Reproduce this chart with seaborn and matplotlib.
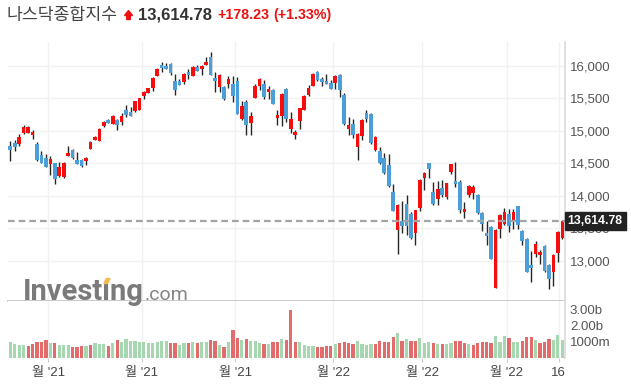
import numpy as np
import pandas as pd
import matplotlib
matplotlib.use("Agg")
import matplotlib.pyplot as plt
import seaborn as sns
from matplotlib.patches import Polygon, Rectangle

sns.set_theme(style="white")
plt.rcParams["font.family"] = ["Liberation Sans", "Noto Sans CJK KR"]

# 일봉 데이터 (2021-09-20 ~ 2022-03-17), 차트에서 읽은 값
opens = [14764, 14810, 14800, 14964, 14969, 14934, 14800, 14626, 14580, 14487,
         14503, 14303, 14292, 14610, 14703, 14549, 14544, 14539, 14723, 14862,
         14846, 15077, 15164, 15108, 15169, 15139, 15318, 15287, 15303, 15323,
         15539, 15585, 15662, 15846, 16010, 15995, 16026, 15764, 15764, 15754,
         15908, 15846, 15980, 15949, 16016, 16133, 15816, 15677, 15672, 15718,
         15723, 15759, 15175, 15441, 15123, 15508, 15692, 15723, 15595, 15626,
         15200, 15226, 15641, 15026, 14934, 15144, 15323, 15549, 15692, 15903,
         15795, 15764, 15739, 15739, 15857, 15549, 15031, 15103, 14754, 14923,
         15267, 15262, 14703, 14687, 14580, 14472, 14057, 13472, 13610, 13872,
         13718, 13431, 13816, 14277, 14503, 14051, 13954, 14118, 13980, 14369,
         14226, 14210, 13749, 14005, 14046, 14010, 13734, 13431, 13518, 12585,
         13493, 13569, 13723, 13600, 13841, 13457, 13334, 12934, 13108, 13093,
         13231, 12939, 12821, 13123, 13344]
highs = [14841, 14857, 14944, 15093, 15077, 15010, 14826, 14687, 14636, 14610,
         14510, 14513, 14518, 14764, 14713, 14672, 14559, 14600, 14836, 14913,
         15036, 15149, 15185, 15236, 15180, 15272, 15395, 15369, 15462, 15508,
         15605, 15662, 15821, 15964, 16057, 16036, 16036, 15872, 15790, 15882,
         15944, 15990, 16010, 16010, 16139, 16205, 15898, 15867, 15692, 15836,
         15841, 15821, 15451, 15467, 15287, 15718, 15805, 15775, 15682, 15636,
         15318, 15575, 15651, 15287, 15010, 15354, 15544, 15698, 15882, 15913,
         15821, 15867, 15780, 15857, 15867, 15585, 15205, 15175, 14959, 15180,
         15318, 15272, 14913, 14744, 14651, 14641, 14175, 13867, 13918, 14010,
         13754, 13785, 14251, 14369, 14510, 14205, 14221, 14236, 14200, 14495,
         14513, 14241, 13908, 14164, 14159, 14021, 13754, 13616, 13534, 13487,
         13713, 13805, 13790, 13790, 13846, 13472, 13354, 13154, 13303, 13164,
         13241, 12949, 13103, 13462, 13629]
lows = [14539, 14693, 14769, 14944, 14959, 14867, 14539, 14498, 14436, 14318,
        14185, 14292, 14267, 14605, 14569, 14482, 14446, 14477, 14713, 14851,
        14836, 15051, 15113, 15098, 15010, 15082, 15210, 15221, 15292, 15313,
        15482, 15575, 15616, 15836, 15908, 15944, 15862, 15544, 15698, 15713,
        15795, 15836, 15913, 15851, 16005, 15851, 15600, 15600, 15467, 15651,
        15446, 15251, 15159, 14939, 14939, 15498, 15621, 15482, 15482, 15405,
        15092, 15067, 15128, 14969, 14867, 15021, 15313, 15539, 15682, 15769,
        15687, 15713, 15636, 15646, 15513, 15092, 14928, 14882, 14549, 14862,
        15134, 14795, 14693, 14487, 14334, 14139, 13759, 13098, 13421, 13395,
        13328, 13241, 13769, 14087, 14267, 13862, 13851, 13985, 13944, 14339,
        14134, 13728, 13662, 13985, 13944, 13718, 13462, 13246, 13021, 12575,
        13354, 13544, 13446, 13493, 13482, 13236, 12821, 12667, 13052, 12944,
        12831, 12559, 12616, 12985, 13334]
closes = [14703, 14754, 14903, 15062, 15057, 14985, 14549, 14508, 14446, 14564,
          14262, 14441, 14498, 14657, 14580, 14493, 14457, 14585, 14826, 14903,
          15026, 15134, 15123, 15226, 15092, 15226, 15236, 15231, 15451, 15498,
          15595, 15651, 15805, 15949, 15969, 15954, 15882, 15631, 15708, 15872,
          15862, 15980, 15923, 15995, 16057, 15862, 15764, 15857, 15492, 15795,
          15533, 15262, 15375, 15092, 15226, 15687, 15795, 15518, 15641, 15416,
          15241, 15564, 15185, 15175, 14980, 15344, 15533, 15657, 15872, 15780,
          15754, 15723, 15646, 15841, 15626, 15103, 15087, 14939, 14949, 15164,
          15185, 14816, 14903, 14498, 14344, 14154, 13769, 13857, 13539, 13539,
          13349, 13780, 14241, 14354, 14416, 13872, 14103, 14016, 14190, 14487,
          14180, 13780, 13795, 14149, 14139, 13728, 13559, 13385, 13031, 13472,
          13703, 13749, 13539, 13749, 13544, 13303, 12831, 12893, 13252, 13139,
          12841, 12718, 13087, 13436.55, 13614.78]

# 거래량 (십억 주) 과 막대 색 구분 (r = 빨강, g = 초록)
volumes = [1.00, 0.83, 0.79, 0.79, 0.71, 0.85, 0.96, 0.96, 1.10, 0.90,
           0.90, 0.77, 0.77, 0.77, 0.65, 0.65, 0.73, 0.73, 0.79, 0.90,
           0.83, 0.83, 0.73, 0.90, 1.10, 1.00, 1.15, 1.04, 1.04, 1.00,
           1.00, 0.94, 0.94, 1.00, 1.04, 1.04, 0.94, 0.94, 0.79, 0.90,
           0.94, 0.96, 0.90, 1.00, 0.96, 1.08, 1.02, 0.77, 0.69, 0.96,
           1.71, 1.21, 1.08, 1.15, 1.02, 1.02, 0.90, 0.83, 0.83, 0.96,
           0.96, 1.15, 1.08, 2.98, 0.96, 0.96, 0.77, 0.71, 0.71, 0.65,
           0.65, 0.71, 0.71, 0.83, 0.90, 0.96, 0.90, 0.83, 1.02, 0.83,
           0.77, 0.83, 0.83, 1.02, 0.96, 0.96, 1.27, 1.52, 1.02, 1.15,
           1.02, 1.02, 1.21, 0.90, 0.96, 0.90, 0.83, 0.83, 0.83, 0.90,
           1.02, 1.02, 0.90, 0.83, 0.77, 0.90, 0.96, 0.96, 0.90, 1.33,
           0.96, 1.33, 1.21, 0.96, 0.96, 1.02, 1.27, 1.27, 1.08, 0.90,
           0.96, 1.15, 1.08, 1.40, 1.08]
vol_dir = list("ggggrrrrrg" "rgggrrrgrg" "ggrgrggggg" "ggggggrrgg"
               "rgrggrrgrg" "rrgrgggrgr" "rgrrrggggr" "rrrgrrrrgg"
               "ggrrrrrgrg" "rrgggrgrgg" "rrrgrrrrrg" "ggrggrrrgr"
               "rrggg")

price_ticks = [13000, 13500, 14000, 14500, 15000, 15500, 16000]
vol_ticks = [1, 2, 3]
vol_tick_labels = ["1000m", "2.00b", "3.00b"]
month_idx = [9, 30, 51, 73, 93, 112, 123.7]
month_labels = ["월 '21", "월 '21", "월 '21", "월 '22", "월 '22", "월 '22", "16"]
last_price = 13614.78

RED = "#f70d0d"
BLUE = "#4b9fd9"
WICK = "#262626"
VOL_RED = "#e26b6b"
VOL_GREEN = "#a7d7b0"
GRID = "#f1f1f1"

W, H = 631, 384
fig = plt.figure(figsize=(W / 100, H / 100), dpi=100)


def fx(px):
    return px / W


def fy(py):
    return 1 - py / H


x_left, x_right = 8, 565
ax = fig.add_axes([fx(x_left), fy(300.7), (x_right - x_left) / W, (300.7 - 42) / H])
axv = fig.add_axes([fx(x_left), fy(357.7), (x_right - x_left) / W, (357.7 - 300.7) / H])

o = np.array(opens, dtype=float)
h = np.array(highs, dtype=float)
l = np.array(lows, dtype=float)
c = np.array(closes, dtype=float)
idx = np.arange(len(c))
colors = np.where(c >= o, RED, BLUE)

# 캔들
ax.vlines(idx, l, h, color=WICK, lw=1.0, zorder=2)
ax.bar(idx, np.maximum(np.abs(c - o), 10), bottom=np.minimum(o, c),
       width=0.82, color=colors, linewidth=0, zorder=3)
ax.axhline(last_price, color="#a3a3a3", lw=1.6, dashes=(3, 1.8), zorder=4)

xlim = (-0.52, 124.6)
grid_x = [m - 0.5 for m in month_idx]
for a in (ax, axv):
    a.set_xlim(*xlim)
    for gx in grid_x:
        a.axvline(gx, color=GRID, lw=1, zorder=0)

ax.set_ylim(12385, 16365)
ax.set_yticks(price_ticks)
ax.set_yticklabels([f"{v:,}" for v in price_ticks])
for v in price_ticks:
    ax.axhline(v, color=GRID, lw=1, zorder=0)
ax.yaxis.tick_right()
ax.tick_params(axis="y", length=0, pad=3.5, labelsize=9.5, labelcolor="#555555")
ax.set_xticks([])
for s in ("top", "left"):
    ax.spines[s].set_visible(False)
ax.spines["right"].set_color("#dcdcdc")
ax.spines["bottom"].set_color("#c6c6c6")
ax.spines["bottom"].set_linewidth(1.3)

# 거래량
vol_df = pd.DataFrame({"idx": idx, "vol": volumes,
                       "dir": ["up" if d == "r" else "down" for d in vol_dir]})
sns.barplot(data=vol_df, x="idx", y="vol", hue="dir",
            palette={"up": VOL_RED, "down": VOL_GREEN},
            native_scale=True, dodge=False, width=0.72, saturation=1,
            errorbar=None, legend=False, linewidth=0, ax=axv)
axv.set_xlim(*xlim)
axv.set_ylim(0, 3.56)
axv.set_xlabel("")
axv.set_ylabel("")
axv.set_yticks(vol_ticks)
axv.set_yticklabels(vol_tick_labels)
axv.yaxis.tick_right()
axv.tick_params(axis="y", length=0, pad=3.5, labelsize=9.5, labelcolor="#555555")
axv.set_xticks(grid_x)
axv.set_xticklabels(month_labels)
axv.tick_params(axis="x", length=3, width=0.8, color="#cccccc", pad=4,
                labelsize=9.5, labelcolor="#444444", bottom=True)
for s in ("top", "left", "bottom"):
    axv.spines[s].set_visible(False)
axv.spines["right"].set_color("#dcdcdc")

# 현재가 라벨
fig.patches.append(Rectangle((fx(565), fy(230)), 61 / W, 18 / H,
                             transform=fig.transFigure, color="#222222", zorder=10))
fig.text(fx(567.5), fy(221), f"{last_price:,.2f}", color="white", weight="bold",
         size=8.8, va="center", ha="left", zorder=11)

# 제목
fig.text(fx(7), fy(15), "나스닥종합지수", size=12.4, color="#444444",
         va="center", ha="left")
arrow = [(124.5, 15.5), (128.5, 10.5), (132.5, 15.5), (130.3, 15.5),
         (130.3, 19.5), (126.7, 19.5), (126.7, 15.5)]
fig.patches.append(Polygon([(fx(px), fy(py)) for px, py in arrow], closed=True,
                           transform=fig.transFigure, color="#ee1111", zorder=10))
fig.text(fx(138), fy(15), f"{last_price:,.2f}", size=12, weight="bold",
         color="#333333", va="center", ha="left")
fig.text(fx(217), fy(15), "+178.23", size=10.3, weight="bold", color="#ee1111",
         va="center", ha="left")
fig.text(fx(273), fy(15), "(+1.33%)", size=10.3, weight="bold", color="#ee1111",
         va="center", ha="left")

# 워터마크 (두 번째 i 의 점은 주황색)
wm_kw = dict(size=21, weight="bold", family="Roboto", va="baseline", ha="left")
wm = fig.text(fx(23), fy(300.5), "Investıng", color="#7a7a7a", **wm_kw)
probe = fig.text(fx(23), fy(300.5), "Invest", alpha=0, **wm_kw)
probe_i = fig.text(fx(23), fy(300.5), "Investı", alpha=0, **wm_kw)
renderer = fig.canvas.get_renderer()
x0 = probe.get_window_extent(renderer).x1
x1 = probe_i.get_window_extent(renderer).x1
wm_end = wm.get_window_extent(renderer).x1
probe.remove()
probe_i.remove()
cx = (x0 + x1) / 2
dot = [(cx - 3.2, H - 283.5), (cx - 0.6, H - 278.5), (cx + 3.0, H - 278.5),
       (cx + 0.4, H - 283.5)]
fig.patches.append(Polygon([(px / W, py / H) for px, py in dot], closed=True,
                           transform=fig.transFigure, color="#f6b94f", zorder=10))
fig.text(wm_end / W + 1 / W, fy(300.5), ".com", size=14, family="Roboto",
         color="#858585", va="baseline", ha="left")

fig.savefig("out.png", dpi=100)
